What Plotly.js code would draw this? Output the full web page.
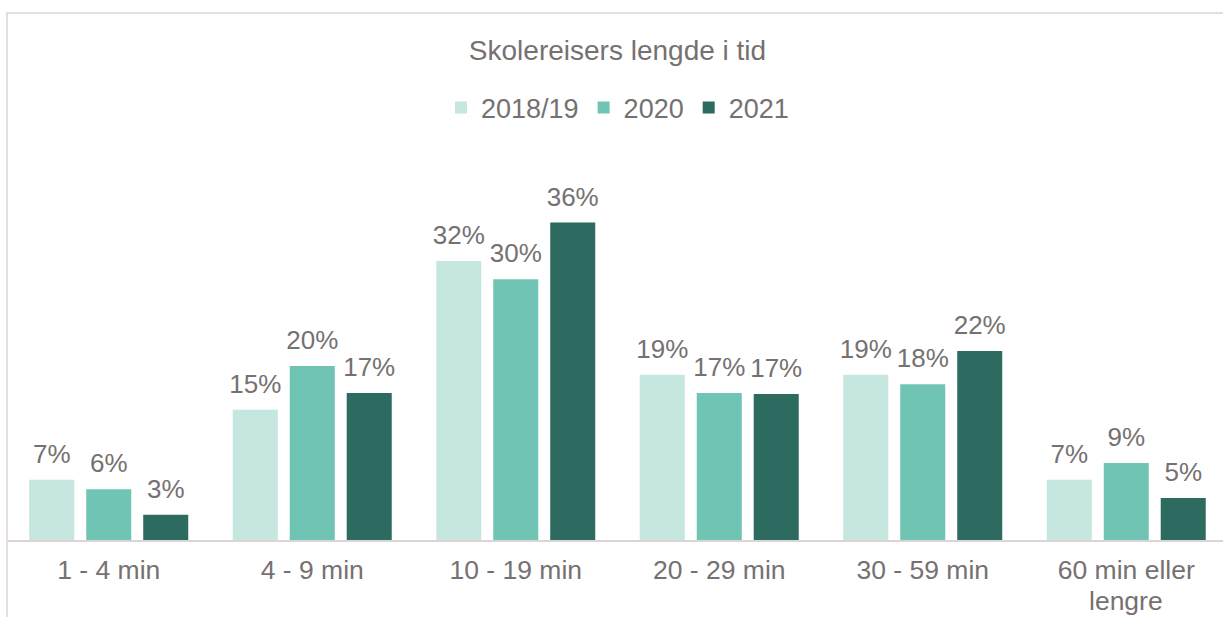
<!DOCTYPE html>
<html>
<head>
<meta charset="utf-8">
<script src="https://cdn.plot.ly/plotly-3.0.1.min.js"></script>
<style>
  html, body { margin:0; padding:0; background:#fff; overflow:hidden; width:1223px; height:617px; }
  #frame { position:absolute; left:6px; top:12px; width:1300px; height:700px;
           border-left:2px solid #E6DDE0; border-top:2px solid #E6DDE0; pointer-events:none; }
  #chart { position:absolute; left:0; top:0; }
</style>
</head>
<body>
<div id="chart"></div>
<div id="frame"></div>
<script>
const categories = ["1 - 4 min", "4 - 9 min", "10 - 19 min", "20 - 29 min", "30 - 59 min", "60 min eller lengre"];
const tickLines1 = ["1 - 4 min", "4 - 9 min", "10 - 19 min", "20 - 29 min", "30 - 59 min", "60 min eller"];
const tickLine2Last = "lengre";
const seriesNames = ["2018/19", "2020", "2021"];
const values2018_19 = [0.069, 0.149, 0.319, 0.189, 0.189, 0.069];
const values2020    = [0.058, 0.199, 0.298, 0.168, 0.178, 0.088];
const values2021    = [0.029, 0.168, 0.363, 0.167, 0.216, 0.048];
const colors = ["#C6E6E0", "#70C4B3", "#2D6B61"];

const textColor = "#767171";
const fontFam = "Liberation Sans, Arial, sans-serif";
const allValues = [values2018_19, values2020, values2021];

const barTraces = allValues.map((vals, i) => ({
  type: "bar",
  name: seriesNames[i],
  offsetgroup: "g" + i,
  x: categories,
  y: vals,
  marker: { color: colors[i] },
  hoverinfo: "skip"
}));

const labelTraces = allValues.map((vals, i) => ({
  type: "scatter",
  mode: "markers+text",
  showlegend: false,
  offsetgroup: "g" + i,
  x: categories,
  y: vals,
  marker: { size: 15, color: "rgba(0,0,0,0)" },
  texttemplate: "%{y:.0%}",
  textposition: "top center",
  textfont: { family: fontFam, size: 26, color: textColor },
  cliponaxis: false,
  hoverinfo: "skip"
}));

const layout = {
  width: 1230,
  height: 617,
  margin: { l: 7, r: 2, t: 146, b: 77 },
  paper_bgcolor: "rgba(0,0,0,0)",
  plot_bgcolor: "rgba(0,0,0,0)",
  barmode: "group",
  bargap: 0.16,
  bargroupgap: 0.21,
  scattermode: "group",
  scattergap: 0.16,
  title: {
    text: "Skolereisers lengde i tid",
    font: { family: fontFam, size: 28, color: textColor },
    x: 0.5, xanchor: "center",
    y: 1 - 50/617, yanchor: "middle", xref: "paper"
  },
  showlegend: true,
  legend: {
    orientation: "h",
    x: 0.5, xanchor: "center",
    y: (540 - 108) / 394, yanchor: "middle",
    font: { family: fontFam, size: 27, color: textColor },
    itemwidth: 30,
    traceorder: "normal"
  },
  xaxis: {
    type: "category",
    tickmode: "array",
    tickvals: categories,
    ticktext: tickLines1,
    showgrid: false,
    showline: true,
    linecolor: "#DCD3D5",
    linewidth: 2,
    ticks: "",
    ticklabelstandoff: 5,
    tickfont: { family: fontFam, size: 26.5, color: textColor },
    fixedrange: true
  },
  yaxis: {
    range: [0, 394/875],
    visible: false,
    showgrid: false,
    zeroline: false,
    fixedrange: true
  },
  annotations: [{
    text: tickLine2Last,
    x: categories[categories.length - 1],
    xref: "x",
    yref: "paper",
    y: (540 - 617) / 394,
    yanchor: "bottom",
    xanchor: "center",
    showarrow: false,
    borderpad: 0,
    font: { family: fontFam, size: 26.5, color: textColor }
  }]
};

Plotly.newPlot("chart", barTraces.concat(labelTraces), layout, { displayModeBar: false, staticPlot: true });
</script>
</body>
</html>
